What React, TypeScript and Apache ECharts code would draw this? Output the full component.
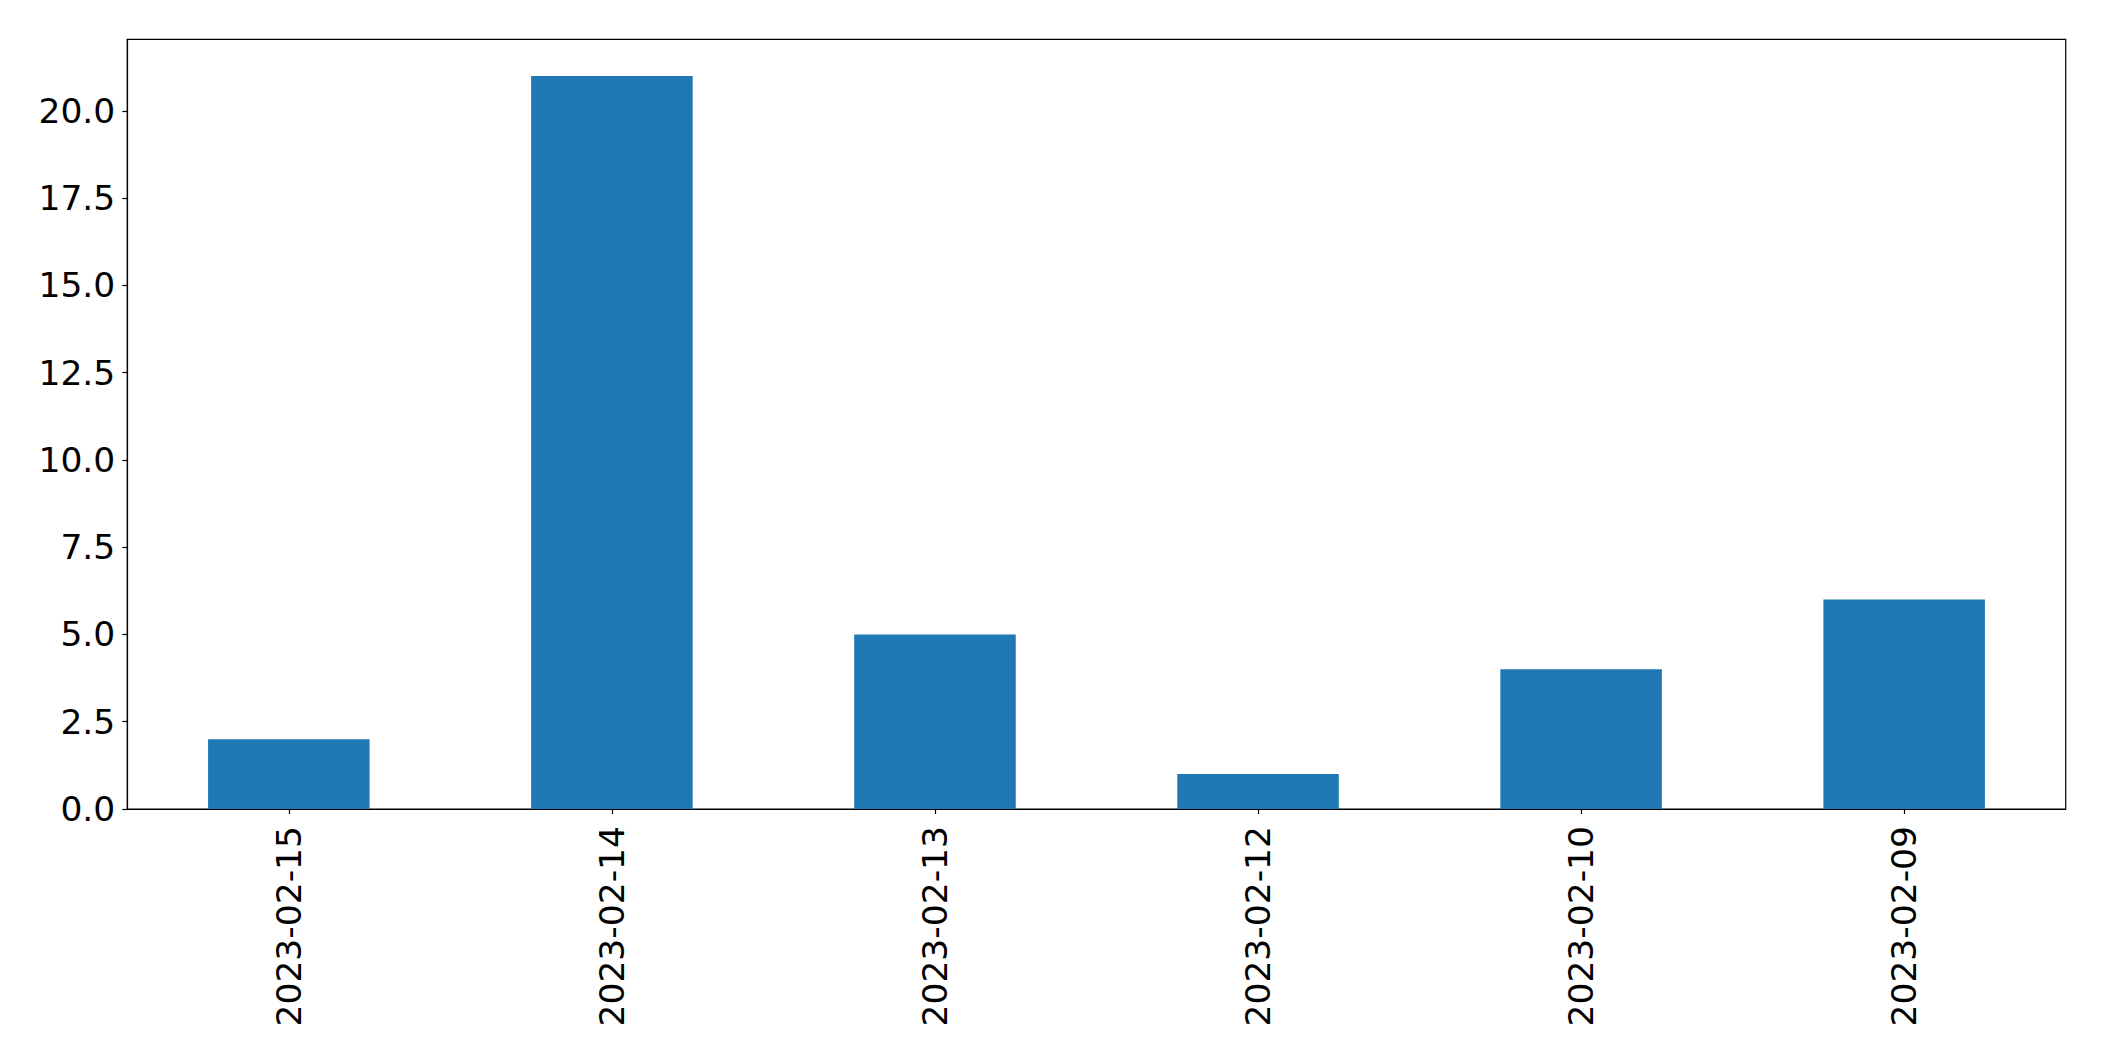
import React, { useEffect, useRef } from "react";
import * as echarts from "echarts";

const categories = ["2023-02-15", "2023-02-14", "2023-02-13", "2023-02-12", "2023-02-10", "2023-02-09"];
const values = [2, 21, 5, 1, 4, 6];
const yMax = 22.05;
const yInterval = 2.5;

export default function App() {
  const ref = useRef<HTMLDivElement>(null);
  useEffect(() => {
    if (!ref.current) return;
    const chart = echarts.init(ref.current, null, { renderer: "svg" });
    const font = "DejaVu Sans";
    chart.setOption({
      animation: false,
      backgroundColor: "#ffffff",
      grid: {
        left: 127.3,
        right: 38.3,
        top: 39.3,
        bottom: 252,
        show: true,
        borderColor: "#000000",
        borderWidth: 1.2,
        containLabel: false,
      },
      xAxis: {
        type: "category",
        data: categories,
        boundaryGap: true,
        axisLine: { show: true, lineStyle: { color: "#000000", width: 1.2 } },
        axisTick: { show: true, alignWithLabel: true, length: 5, lineStyle: { color: "#000000", width: 1.2 } },
        axisLabel: {
          rotate: 90,
          margin: 17,
          fontSize: 34.5,
          fontFamily: font,
          color: "#000000",
          interval: 0,
        },
        splitLine: { show: false },
      },
      yAxis: {
        type: "value",
        min: 0,
        max: yMax,
        interval: yInterval,
        axisLine: { show: true, lineStyle: { color: "#000000", width: 1.2 } },
        axisTick: { show: true, length: 5, lineStyle: { color: "#000000", width: 1.2 } },
        axisLabel: {
          margin: 12,
          fontSize: 34.5,
          fontFamily: font,
          color: "#000000",
          showMaxLabel: false,
          formatter: (v: number) => v.toFixed(1),
        },
        splitLine: { show: false },
      },
      series: [
        {
          type: "bar",
          data: values,
          barWidth: "50%",
          itemStyle: { color: "#1f77b4" },
        },
      ],
    });
    return () => chart.dispose();
  }, []);
  return (
    <div
      ref={ref}
      style={{ position: "absolute", left: 0, top: 0, width: 2104, height: 1061, background: "#fff" }}
    />
  );
}
